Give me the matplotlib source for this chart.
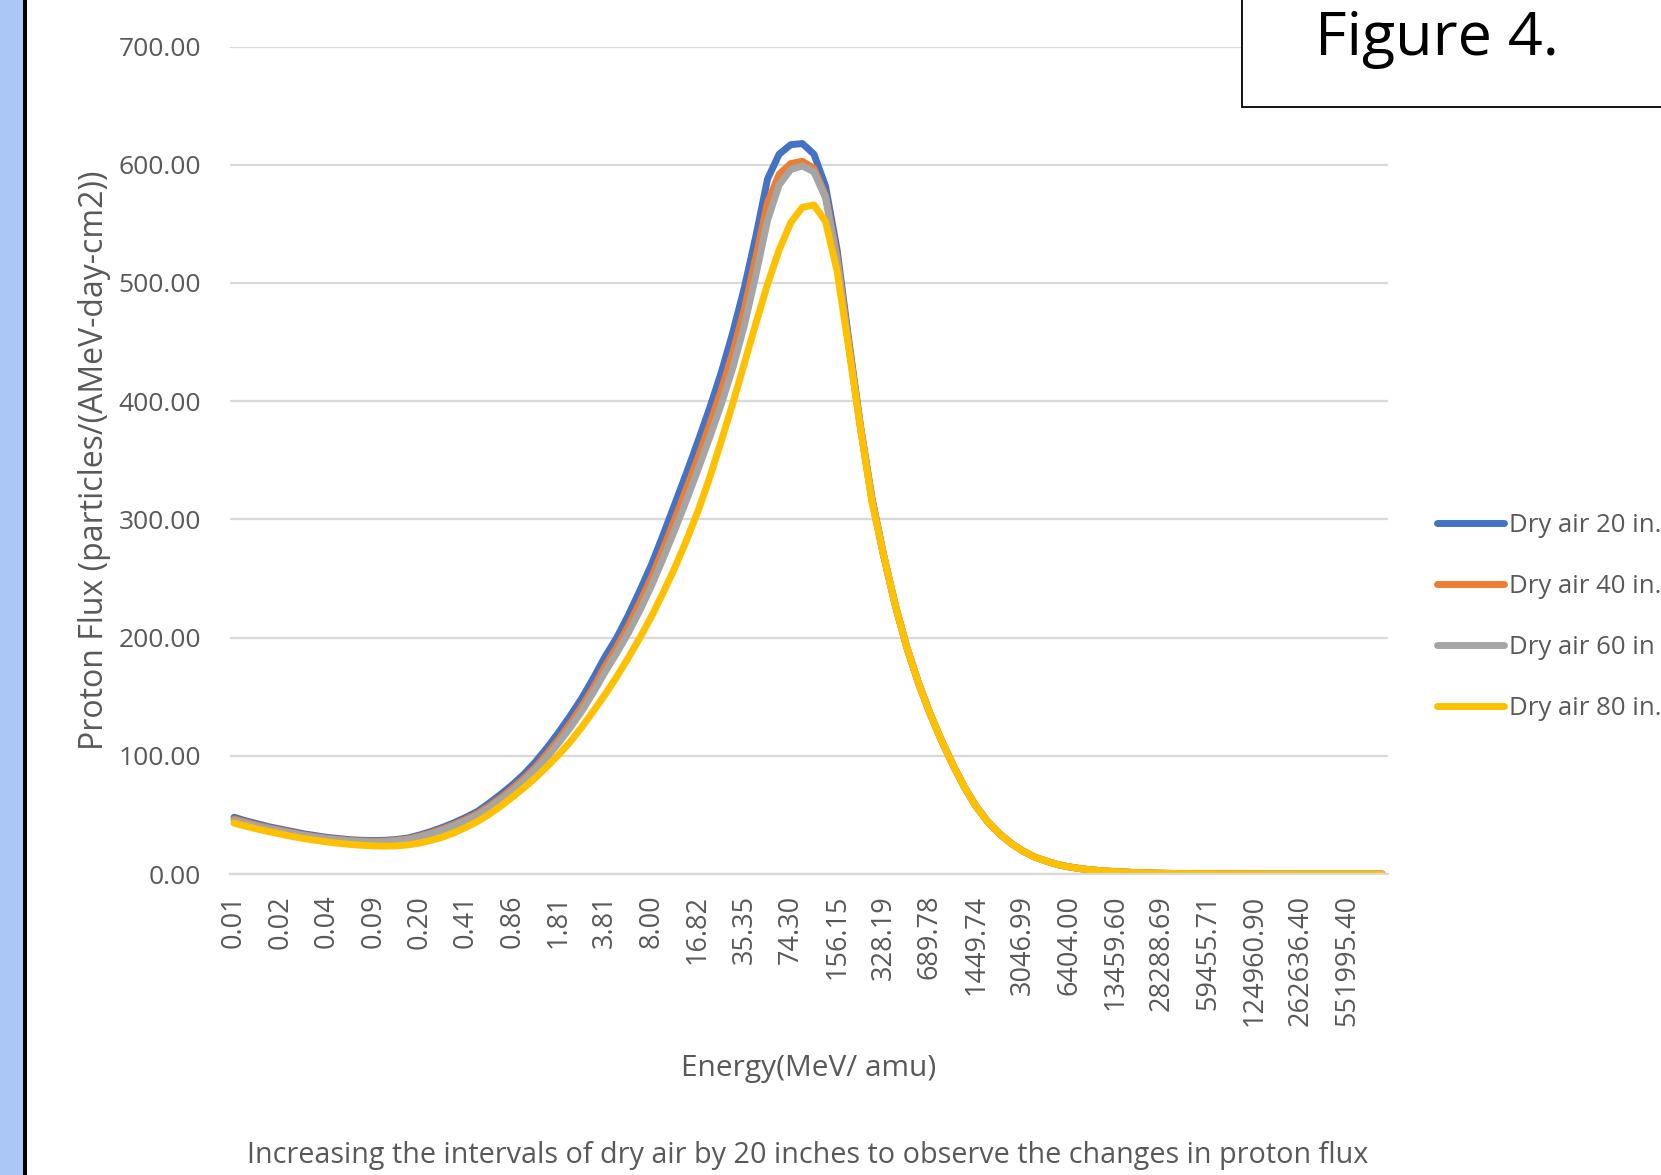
import numpy as np
import matplotlib.pyplot as plt
from matplotlib import font_manager
from matplotlib.patches import Rectangle
from matplotlib.ticker import FormatStrFormatter

# Energy (MeV/amu) labels, Excel shows every 4th category
energy_labels = ['0.01', '0.02', '0.04', '0.09', '0.20', '0.41', '0.86', '1.81',
                 '3.81', '8.00', '16.82', '35.35', '74.30', '156.15', '328.19',
                 '689.78', '1449.74', '3046.99', '6404.00', '13459.60', '28288.69',
                 '59455.71', '124960.90', '262636.40', '551995.40']
label_step = 4

# high energy tail, the four curves sit on top of each other there
flux_tail = [270, 228, 192, 162, 136, 113, 92, 73, 57, 44,
             34, 26, 19.5, 14.5, 11, 8, 6, 4.5, 3.4, 2.6,
             2.0, 1.5, 1.1, 0.8, 0.6, 0.45, 0.33, 0.25, 0.18, 0.13,
             0.1, 0.07, 0.05, 0.04, 0.03, 0.02, 0.015, 0.01, 0.008, 0.006,
             0.004, 0.003, 0.002, 0.0015]

flux_20 = [48, 45, 42.5, 40, 38, 36, 34, 32.5, 31, 30,
           29, 28.5, 28.3, 28.5, 29.2, 30.5, 33, 36, 39.5, 43.5,
           48, 53, 60, 67.5, 75.5, 84.5, 95, 107, 120, 134,
           149, 166, 184, 200, 219, 240, 262, 287, 313, 339,
           366, 394, 424, 458, 496, 540, 588, 609, 617, 618,
           609, 582, 528, 452, 380, 318] + flux_tail

flux_40 = [46.5, 43.8, 41.3, 39, 37, 35, 33.1, 31.6, 30.2, 29.2,
           28.3, 27.8, 27.6, 27.8, 28.5, 29.7, 32, 34.8, 38.2, 42,
           46.3, 51.2, 57.5, 64.5, 72.5, 81, 90.5, 102, 114, 127.5,
           142, 158, 176, 192, 210, 230, 251, 275, 300, 326,
           352, 380, 409, 441, 478, 522, 568, 592, 601, 603,
           597, 574, 522, 449, 379, 317] + flux_tail

flux_60 = [45.5, 43, 40.5, 38.3, 36.3, 34.4, 32.6, 31.1, 29.8, 28.8,
           27.9, 27.3, 27.1, 27.3, 28, 29.2, 31.3, 34, 37.2, 41,
           45.2, 50, 56, 63, 70.5, 79, 88.5, 99, 111, 124,
           138, 154, 171, 187, 204, 223, 244, 267, 291, 316,
           342, 369, 397, 428, 464, 507, 553, 583, 596, 599,
           594, 572, 519, 447, 378, 316] + flux_tail

flux_80 = [43, 40.5, 38, 35.8, 33.8, 31.8, 30, 28.5, 27.1, 26,
           25, 24.3, 23.8, 23.6, 23.8, 24.6, 26.2, 28.5, 31.3, 35,
           39.5, 44.5, 50.5, 57.5, 65, 73, 81.5, 91, 101, 112,
           124.5, 138, 152, 167, 183, 200, 218, 238, 259, 282,
           307, 335, 366, 398, 432, 466, 499, 528, 551, 564,
           566, 552, 510, 445, 378, 315] + flux_tail

series_names = ['Dry air 20 in.', 'Dry air 40 in.', 'Dry air 60 in', 'Dry air 80 in.']
series_colors = ['#4472C4', '#ED7D31', '#A5A5A5', '#FFC000']

names = {f.name for f in font_manager.fontManager.ttflist}
main_font = 'Open Sans' if 'Open Sans' in names else 'DejaVu Sans'
narrow_font = 'Liberation Sans Narrow' if 'Liberation Sans Narrow' in names else main_font
plt.rcParams['font.family'] = [main_font, 'DejaVu Sans']
grey_txt = '#595959'

W, H = 1661, 1175
fig = plt.figure(figsize=(W / 100, H / 100), dpi=100)
ax = fig.add_axes([230 / W, 1 - 874 / H, 1158 / W, 827.4 / H])

x = np.arange(len(flux_20))
for name, vals, col in zip(series_names, [flux_20, flux_40, flux_60, flux_80], series_colors):
    ax.plot(x, vals, color=col, lw=5.0, label=name,
            solid_capstyle='round', solid_joinstyle='round')

ax.set_xlim(-0.35, 99.5)
ax.set_ylim(0, 700)
ax.set_yticks(np.arange(0, 701, 100))
ax.yaxis.set_major_formatter(FormatStrFormatter('%.2f'))
ax.set_xticks(np.arange(0, len(x), label_step)[:len(energy_labels)])
ax.set_xticklabels(energy_labels, rotation=90)
ax.grid(axis='y', color='#d9d9d9', lw=1.6)
ax.set_axisbelow(True)
for s in ['top', 'right', 'left']:
    ax.spines[s].set_visible(False)
ax.spines['bottom'].set_color('#d9d9d9')
ax.spines['bottom'].set_linewidth(1.6)
ax.tick_params(axis='both', length=0, labelcolor=grey_txt)
ax.tick_params(axis='y', pad=21, labelsize=19)
ax.tick_params(axis='x', pad=15, labelsize=19.5)

ax.set_ylabel('Proton Flux (particles/(AMeV-day-cm2))', fontsize=23, color=grey_txt)
ax.yaxis.set_label_coords(-0.117, 0.5)
ax.yaxis.label.set_va('center')
ax.set_xlabel('Energy(MeV/ amu)', fontsize=21.5, color=grey_txt)
ax.xaxis.set_label_coords(0.5, -0.2345)
ax.xaxis.label.set_va('center')

leg = fig.legend(loc='center left', bbox_to_anchor=(1437 / W, 1 - 617 / H),
                 frameon=False, fontsize=18.5, handlelength=2.6, handletextpad=0.2,
                 labelspacing=1.41, borderpad=0, borderaxespad=0)
for t in leg.get_texts():
    t.set_color(grey_txt)

# left page decoration
fig.patches.append(Rectangle((0, 0), 23 / W, 1, transform=fig.transFigure,
                             facecolor='#abc7f5', edgecolor='none', zorder=5))
fig.patches.append(Rectangle((23 / W, 0), 4 / W, 1, transform=fig.transFigure,
                             facecolor='black', edgecolor='none', zorder=5))

# "Figure 4." box
fig.patches.append(Rectangle((1241.5 / W, 1 - 107.3 / H), 0.5, 0.5, transform=fig.transFigure,
                             facecolor='white', edgecolor='black', lw=1.3, zorder=5))
fig.text(1315 / W, 1 - 55 / H, 'Figure 4.', fontsize=44, color='black',
         ha='left', va='baseline', zorder=6)

cap = fig.text(808 / W, 1 - 1163 / H,
               'Increasing the intervals of dry air by 20 inches to observe the changes in proton flux',
               fontsize=25, color=grey_txt, ha='center', va='baseline',
               family=[narrow_font, 'DejaVu Sans'])
fig.canvas.draw()
w = cap.get_window_extent().width
cap.set_fontsize(25 * 1122 / w)

fig.savefig('out.png', dpi=100)
